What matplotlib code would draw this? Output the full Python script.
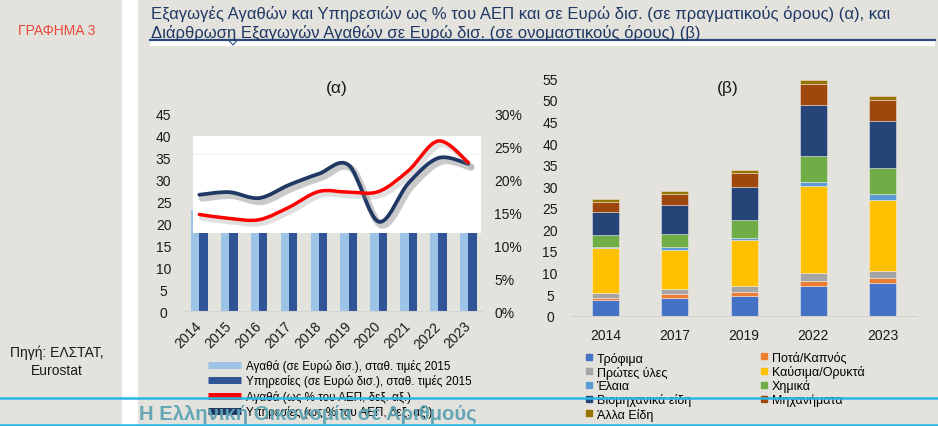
import matplotlib
matplotlib.use('Agg')
import matplotlib.pyplot as plt
import matplotlib.patheffects as pe
from matplotlib.patches import Rectangle, PathPatch
from matplotlib.path import Path
from matplotlib.lines import Line2D
import numpy as np

plt.rcParams['font.family'] = ['Liberation Sans', 'DejaVu Sans']

# chart (α): exports, constant 2015 prices (bn €) and % of GDP
years_a = ['2014', '2015', '2016', '2017', '2018', '2019', '2020', '2021', '2022', '2023']
goods_bn = [23.0, 24.0, 23.5, 25.5, 28.0, 28.5, 27.0, 31.0, 33.5, 32.5]
services_bn = [28.5, 28.0, 27.0, 29.5, 32.0, 34.0, 19.5, 27.0, 33.5, 35.5]
goods_pct = [14.7, 14.1, 13.9, 15.8, 18.2, 18.1, 18.2, 21.4, 25.9, 22.6]
services_pct = [17.7, 18.1, 17.2, 19.2, 20.9, 22.2, 13.6, 19.5, 23.3, 22.4]

# chart (β): structure of goods exports (bn €, nominal)
years_b = ['2014', '2017', '2019', '2022', '2023']
categories = ['Τρόφιμα', 'Ποτά/Καπνός', 'Πρώτες ύλες', 'Καύσιμα/Ορυκτά', 'Έλαια',
              'Χημικά', 'Βιομηχανικά είδη', 'Μηχανήματα', 'Άλλα Είδη']
food = [3.6, 4.2, 4.6, 6.8, 7.5]
drinks = [0.6, 0.8, 0.85, 1.15, 1.25]
raw = [1.0, 1.3, 1.4, 2.0, 1.6]
fuels = [10.4, 9.0, 10.7, 20.1, 16.5]
oils = [0.4, 0.6, 0.4, 0.9, 1.4]
chemicals = [2.6, 3.1, 4.2, 6.1, 5.95]
manufactured = [5.4, 6.6, 7.7, 11.8, 10.9]
machinery = [2.3, 2.5, 3.25, 4.9, 4.95]
other = [0.7, 0.7, 0.6, 0.85, 0.75]
stack = [food, drinks, raw, fuels, oils, chemicals, manufactured, machinery, other]
colors_b = ['#4472c4', '#ed7d31', '#a5a5a5', '#ffc000', '#5b9bd5',
            '#70ad47', '#264478', '#9e480e', '#997300']

BG = '#e4e2dd'
W, H = 938, 427


def fx(px):
    return px / W


def fy(py):
    return 1 - py / H


def smooth_path(xs, ys):
    # bezier curve through the points (like Excel's smoothed line)
    pts = np.column_stack([xs, ys]).astype(float)
    n = len(pts)
    verts = [pts[0]]
    codes = [Path.MOVETO]
    for i in range(n - 1):
        p0 = pts[max(i - 1, 0)]
        p1 = pts[i]
        p2 = pts[i + 1]
        p3 = pts[min(i + 2, n - 1)]
        c1 = p1 + (p2 - p0) / 6
        c2 = p2 - (p3 - p1) / 6
        verts += [c1, c2, p2]
        codes += [Path.CURVE4] * 3
    return Path(verts, codes)


fig = plt.figure(figsize=(9.38, 4.27), dpi=100, facecolor=BG)

# page decorations
fig.add_artist(Rectangle((fx(122), 0), fx(16), 1, transform=fig.transFigure,
                         facecolor='white', edgecolor='none', zorder=0))
fig.add_artist(Rectangle((fx(150), fy(47)), fx(785), fy(41) - fy(47), transform=fig.transFigure,
                         facecolor='white', edgecolor='none', zorder=0))
fig.add_artist(Line2D([fx(150), fx(935)], [fy(41), fy(41)], transform=fig.transFigure,
                      color='#2e4a7d', lw=1.6, zorder=1))
fig.add_artist(Line2D([fx(229), fx(233), fx(237)], [fy(41.5), fy(46), fy(41.5)],
                      transform=fig.transFigure, color='#2e4a7d', lw=0.8, zorder=1))
fig.text(fx(56.5), fy(31), 'ΓΡΑΦΗΜΑ 3', color='#e8483c', fontsize=10,
         ha='center', va='center')
fig.text(fx(151), fy(14), 'Εξαγωγές Αγαθών και Υπηρεσιών ως % του ΑΕΠ και σε Ευρώ δισ. '
         '(σε πραγματικούς όρους) (α), και', color='#1f3864', fontsize=12, ha='left', va='center')
fig.text(fx(151), fy(32.5), 'Διάρθρωση Εξαγωγών Αγαθών σε Ευρώ δισ. (σε ονομαστικούς όρους) (β)',
         color='#1f3864', fontsize=12, ha='left', va='center')
fig.text(fx(56.5), fy(362), 'Πηγή: ΕΛΣΤΑΤ,\nEurostat', color='#1a1a1a', fontsize=10,
         ha='center', va='center', linespacing=1.35)

# ---- chart (α)
ax1 = fig.add_axes([fx(184.4), fy(312), fx(483.3 - 184.4), fy(115) - fy(312)])
ax1.set_facecolor('none')
x = np.arange(len(years_a))
ax1.bar(x - 0.14, goods_bn, 0.28, color='#9dc3e6', zorder=2)
ax1.bar(x + 0.14, services_bn, 0.28, color='#2f5597', zorder=2)
ax1.add_patch(Rectangle((-0.2, 17.8), 9.63, 22.2, facecolor='white', edgecolor='none', zorder=3))
ax1.plot([-0.2, 9.43], [35.9, 35.9], color='#f2f2f2', lw=0.8, zorder=3)
ax1.set_xlim(-0.5, len(years_a) - 0.5)
ax1.set_ylim(0, 45)
ax1.set_yticks(range(0, 46, 5))
ax1.set_xticks(x)
ax1.set_xticklabels(years_a, rotation=45, ha='right', va='center', rotation_mode='anchor')
ax1.tick_params(axis='x', length=0, pad=9, labelsize=10, labelcolor='#1a1a1a')
ax1.tick_params(axis='y', length=0, pad=15, labelsize=10, labelcolor='#1a1a1a')
for lb in ax1.get_yticklabels():
    lb.set_horizontalalignment('center')
for s in ['top', 'right', 'left']:
    ax1.spines[s].set_visible(False)
ax1.spines['bottom'].set_color('#d5d5d5')

ax2 = ax1.twinx()
ax2.set_ylim(0, 30)
ax2.set_yticks(range(0, 31, 5))
ax2.set_yticklabels([f'{v}%' for v in range(0, 31, 5)])
ax2.tick_params(axis='y', length=0, pad=8, labelsize=10, labelcolor='#1a1a1a')
for s in ax2.spines.values():
    s.set_visible(False)

shadow = [pe.SimpleLineShadow(offset=(2, -2.5), shadow_color='#8a8a8a', alpha=0.45, linewidth=5),
          pe.Normal()]
ax2.add_patch(PathPatch(smooth_path(x, services_pct), fill=False, edgecolor='#1f3864',
                        lw=2.7, capstyle='round', joinstyle='round', zorder=4,
                        path_effects=shadow))
ax2.add_patch(PathPatch(smooth_path(x, goods_pct), fill=False, edgecolor='#ff0000',
                        lw=2.5, capstyle='round', joinstyle='round', zorder=5,
                        path_effects=[pe.SimpleLineShadow(offset=(2, -2.5), shadow_color='#9a9a9a',
                                                          alpha=0.3, linewidth=4), pe.Normal()]))
fig.text(fx(337), fy(88), '(α)', fontsize=12.5, ha='center', va='center', color='#1a1a1a')

leg_a_handles = [Line2D([], [], color=c, lw=5, solid_capstyle='butt')
                 for c in ['#9dc3e6', '#2f5597', '#ff0000', '#1f3864']]
leg_a_labels = ['Αγαθά (σε Ευρώ δισ.), σταθ. τιμές 2015',
                'Υπηρεσίες (σε Ευρώ δισ.), σταθ. τιμές 2015',
                'Αγαθά (ως % του ΑΕΠ, δεξ. αξ.)',
                'Υπηρεσίες (ως % του ΑΕΠ, δεξ. αξ.)']
fig.legend(leg_a_handles, leg_a_labels, loc='upper left', bbox_to_anchor=(fx(208), fy(360)),
           frameon=False, fontsize=8.4, handlelength=2.8, handletextpad=0.45,
           labelspacing=0.2, borderaxespad=0, borderpad=0)

# ---- chart (β)
ax3 = fig.add_axes([fx(571), fy(316.7), fx(917.3 - 571), fy(79.3) - fy(316.7)])
ax3.set_facecolor('none')
xb = np.arange(len(years_b))
bottom = np.zeros(len(years_b))
for vals, col in zip(stack, colors_b):
    ax3.bar(xb, vals, 0.39, bottom=bottom, color=col, edgecolor=(1, 1, 1, 0.45), lw=0.6)
    bottom += np.array(vals)
ax3.set_xlim(-0.5, len(years_b) - 0.5)
ax3.set_ylim(0, 55)
ax3.set_yticks(range(0, 56, 5))
ax3.set_xticks(xb)
ax3.set_xticklabels(years_b)
ax3.tick_params(axis='x', length=0, pad=9, labelsize=10, labelcolor='#1a1a1a')
ax3.tick_params(axis='y', length=0, pad=15, labelsize=10, labelcolor='#1a1a1a')
for lb in ax3.get_yticklabels():
    lb.set_horizontalalignment('center')
for s in ['top', 'right', 'left']:
    ax3.spines[s].set_visible(False)
ax3.spines['bottom'].set_color('#d0d0d0')
fig.text(fx(728), fy(89), '(β)', fontsize=12.5, ha='center', va='center', color='#1a1a1a')

handles_b = [Line2D([], [], ls='none', marker='s', markersize=4.5, color=c) for c in colors_b]
left_idx = [0, 2, 4, 6, 8]
right_idx = [1, 3, 5, 7]
fig.legend([handles_b[i] for i in left_idx], [categories[i] for i in left_idx],
           loc='upper left', bbox_to_anchor=(fx(584), fy(352.5)), frameon=False, fontsize=9,
           handlelength=0.8, handletextpad=0.2, labelspacing=0.1, borderaxespad=0, borderpad=0)
fig.legend([handles_b[i] for i in right_idx], [categories[i] for i in right_idx],
           loc='upper left', bbox_to_anchor=(fx(759), fy(352.5)), frameon=False, fontsize=9,
           handlelength=0.8, handletextpad=0.2, labelspacing=0.1, borderaxespad=0, borderpad=0)

# footer
fig.add_artist(Line2D([0, 1], [fy(399), fy(399)], transform=fig.transFigure,
                      color='#29b6e6', lw=1.8, zorder=9))
fig.add_artist(Line2D([0, 1], [fy(426), fy(426)], transform=fig.transFigure,
                      color='#29b6e6', lw=1.8, zorder=9))
fig.text(fx(139), fy(414), 'Η Ελληνική Οικονομία σε Αριθμούς', color='#5ea3b3',
         fontsize=14.6, fontweight='bold', ha='left', va='center', zorder=10, alpha=0.95)

fig.savefig('out.png', dpi=100, facecolor=BG)
